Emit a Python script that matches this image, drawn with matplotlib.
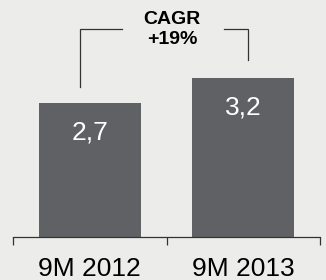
import matplotlib
matplotlib.use("Agg")
import matplotlib.pyplot as plt

categories = ["9M 2012", "9M 2013"]
values = [2.7, 3.2]
value_labels = ["2,7", "3,2"]
cagr_label = "CAGR\n+19%"

bg = "#ECEDEB"
bar_color = "#5F6164"
line_color = "#333333"

plt.rcParams["font.family"] = ["Liberation Sans", "DejaVu Sans"]

fig = plt.figure(figsize=(3.26, 2.80), dpi=100, facecolor=bg)
ax = fig.add_axes([0, 0, 1, 1], facecolor=bg)

x = list(range(len(categories)))
ax.bar(x, values, width=0.665, color=bar_color, zorder=2)

for xi, v, lab in zip(x, values, value_labels):
    ax.text(xi, v - 0.6, lab, ha="center", va="center", color="white", fontsize=19)

# CAGR bracket
top = 4.18
ax.plot([x[0] - 0.065, x[0] - 0.065, 0.21], [values[0] + 0.31, top, top],
        color=line_color, lw=0.9, solid_joinstyle="miter")
ax.plot([0.874, x[1] + 0.031, x[1] + 0.031], [top, top, values[1] + 0.35],
        color=line_color, lw=0.9, solid_joinstyle="miter")
ax.text(0.536, 4.16, cagr_label, ha="center", va="center", fontsize=14,
        fontweight="bold", color="black", linespacing=1.25)

ax.set_xlim(-0.5847, 1.539)
ax.set_ylim(-0.863, 4.759)

for s in ["top", "right", "left"]:
    ax.spines[s].set_visible(False)
ax.spines["bottom"].set_position(("data", 0))
ax.spines["bottom"].set_bounds(-0.5, 1.5)
ax.spines["bottom"].set_color(line_color)
ax.spines["bottom"].set_linewidth(0.9)
ax.spines["bottom"].set_zorder(3)
ax.set_yticks([])
ax.set_xticks([-0.5, 0.5, 1.5])
ax.set_xticklabels([])
ax.tick_params(axis="x", which="major", direction="out", length=5.5, width=0.9, color=line_color)
ax.set_xticks(x, minor=True)
ax.set_xticklabels(categories, minor=True, fontsize=19)
ax.tick_params(axis="x", which="minor", length=0, pad=14.5)

fig.savefig("out.png", dpi=100, facecolor=bg)
